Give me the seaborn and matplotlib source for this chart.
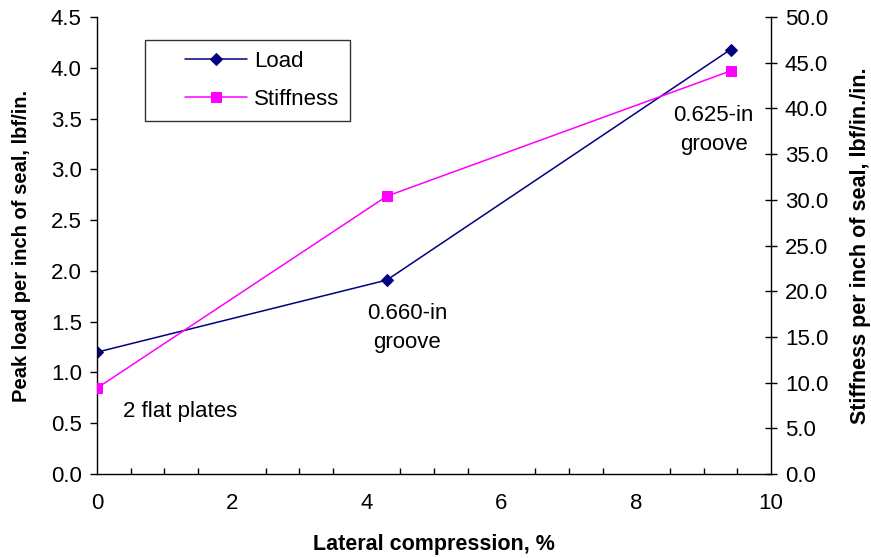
import numpy as np
import pandas as pd
import matplotlib
matplotlib.use('Agg')
import matplotlib.pyplot as plt
from matplotlib.ticker import MultipleLocator, FormatStrFormatter
from matplotlib.legend_handler import HandlerLine2D
import seaborn as sns

compression = [0.0, 4.3, 9.4]
load = [1.20, 1.91, 4.18]
stiffness = [9.4, 30.4, 44.1]

sns.set_style('white')
plt.rcParams['font.family'] = ['Liberation Sans', 'DejaVu Sans']
plt.rcParams['text.color'] = 'black'
plt.rcParams['axes.labelcolor'] = 'black'
plt.rcParams['xtick.color'] = 'black'
plt.rcParams['ytick.color'] = 'black'


# legend handle starts further right, like the Excel legend
class ShiftedLine(HandlerLine2D):
    def create_artists(self, legend, orig_handle, xdescent, ydescent, width, height, fontsize, trans):
        shift = 21
        return super().create_artists(legend, orig_handle, xdescent - shift, ydescent,
                                      width - shift, height, fontsize, trans)


df = pd.DataFrame({'compression': compression, 'load': load, 'stiffness': stiffness})

fig = plt.figure(figsize=(8.71, 5.58), dpi=100)
ax = fig.add_axes([0.1114, 0.1505, 0.7738, 0.819])
ax2 = ax.twinx()

sns.lineplot(data=df, x='compression', y='load', ax=ax, color='#000080', marker='D',
             markersize=6, markeredgecolor='#000080', linewidth=1.1, label='Load', legend=False)
sns.lineplot(data=df, x='compression', y='stiffness', ax=ax2, color='#ff00ff', marker='s',
             markersize=6.5, markeredgecolor='#ff00ff', linewidth=1.1, label='Stiffness', legend=False)

ax.set_xlim(0, 10)
ax.set_ylim(0, 4.5)
ax2.set_ylim(0, 50)
ax.xaxis.set_major_locator(MultipleLocator(2))
ax.xaxis.set_minor_locator(MultipleLocator(0.5))
ax.yaxis.set_major_locator(MultipleLocator(0.5))
ax2.yaxis.set_major_locator(MultipleLocator(5))
ax.yaxis.set_major_formatter(FormatStrFormatter('%.1f'))
ax2.yaxis.set_major_formatter(FormatStrFormatter('%.1f'))

for a in (ax, ax2):
    a.spines['top'].set_visible(False)
    for s in a.spines.values():
        s.set_color('black')
        s.set_linewidth(1.0)
ax.spines['right'].set_visible(False)
ax2.spines['left'].set_visible(False)
ax2.spines['bottom'].set_visible(False)

ax.tick_params(axis='x', which='major', direction='inout', length=8, width=1, labelsize=16, pad=10)
ax.tick_params(axis='x', which='minor', direction='in', length=4, width=1, bottom=True)
ax.tick_params(axis='y', which='major', direction='out', length=5, width=1, labelsize=16, left=True, pad=6)
ax2.tick_params(axis='y', which='major', direction='inout', length=8, width=1, labelsize=16, right=True, pad=6)

ax.set_xlabel('Lateral compression, %', fontsize=15.5, fontweight='bold', labelpad=14)
ax.set_ylabel('Peak load per inch of seal, lbf/in.', fontsize=14.5, fontweight='bold', labelpad=14)
ax2.set_ylabel('Stiffness per inch of seal, lbf/in./in.', fontsize=15.5, fontweight='bold', labelpad=16)

ax.text(0.38, 0.62, '2 flat plates', fontsize=16, ha='left', va='center')
ax.text(4.6, 1.44, '0.660-in\ngroove', fontsize=16, ha='center', va='center', linespacing=1.5)
ax2.text(9.15, 37.6, '0.625-in\ngroove', fontsize=16, ha='center', va='center', linespacing=1.5)

h1 = ax.get_lines()
h2 = ax2.get_lines()
leg = ax.legend([h1[0], h2[0]], ['Load', 'Stiffness'], loc='upper left',
                bbox_to_anchor=(0.071, 0.95), fontsize=16, frameon=True, fancybox=False,
                edgecolor='black', borderpad=0.5, labelspacing=0.75, handlelength=4.1,
                handletextpad=0.3, borderaxespad=0,
                handler_map={h1[0]: ShiftedLine(), h2[0]: ShiftedLine()})
leg.get_frame().set_linewidth(1.0)

fig.savefig('out.png', dpi=100)
